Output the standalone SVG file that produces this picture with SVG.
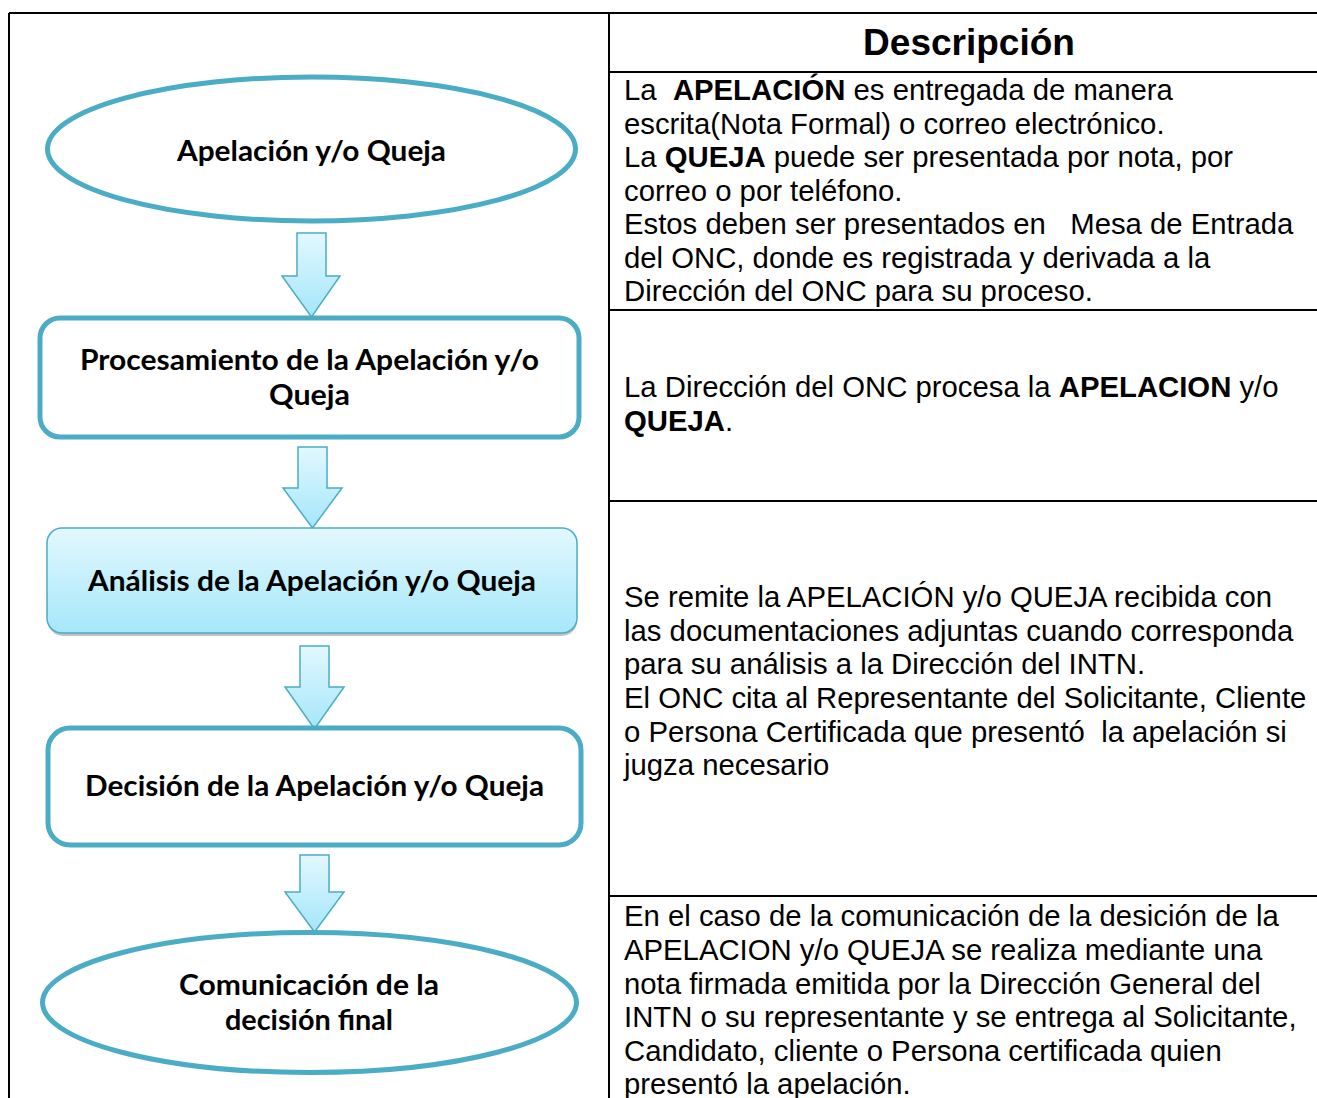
<svg xmlns="http://www.w3.org/2000/svg" width="1317" height="1098" viewBox="0 0 1317 1098">
<style>
.frame{stroke:#000;stroke-width:2;fill:none}
.node{fill:#fff;stroke:#4BACC6;stroke-width:5}
.lbl{font-family:"Lato","Liberation Sans",sans-serif;font-weight:700;font-size:28px;fill:#000;text-anchor:middle}
.desc{font-family:"Liberation Sans",Arial,sans-serif;font-size:29.3px;fill:#000;white-space:pre}
.hdr{font-family:"Liberation Sans",Arial,sans-serif;font-size:37px;font-weight:700;fill:#000;text-anchor:middle}
.arrow{fill:url(#ag);stroke:#4BACC6;stroke-width:1.5;stroke-linejoin:miter}
.b{font-weight:700}
</style>
<defs>
<linearGradient id="ag" x1="0" y1="0" x2="0" y2="1">
<stop offset="0" stop-color="#E2F8FE"/>
<stop offset="1" stop-color="#A4E6FA"/>
</linearGradient>
<linearGradient id="bg3" x1="0" y1="0" x2="0" y2="1">
<stop offset="0" stop-color="#E2F8FE"/>
<stop offset="1" stop-color="#A6E7FA"/>
</linearGradient>
</defs>
<rect width="1317" height="1098" fill="#fff"/>
<g id="table">
<line class="frame" x1="9" y1="13" x2="1317" y2="13"/>
<line class="frame" x1="9" y1="13" x2="9" y2="1098"/>
<line class="frame" x1="609" y1="13" x2="609" y2="1098"/>
<line class="frame" x1="609" y1="72" x2="1317" y2="72"/>
<line class="frame" x1="609" y1="310" x2="1317" y2="310"/>
<line class="frame" x1="609" y1="501" x2="1317" y2="501"/>
<line class="frame" x1="609" y1="896" x2="1317" y2="896"/>
<text class="hdr" x="969" y="55">Descripción</text>
</g>
<g id="desc1">
<text class="desc" x="624" y="100">La  <tspan class="b">APELACIÓN</tspan> es entregada de manera</text>
<text class="desc" x="624" y="134">escrita(Nota Formal) o correo electrónico.</text>
<text class="desc" x="624" y="167">La <tspan class="b">QUEJA</tspan> puede ser presentada por nota, por</text>
<text class="desc" x="624" y="201">correo o por teléfono.</text>
<text class="desc" x="624" y="234">Estos deben ser presentados en   Mesa de Entrada</text>
<text class="desc" x="624" y="268">del ONC, donde es registrada y derivada a la</text>
<text class="desc" x="624" y="301">Dirección del ONC para su proceso.</text>
</g>
<g id="desc2">
<text class="desc" x="624" y="397">La Dirección del ONC procesa la <tspan class="b">APELACION</tspan> y/o</text>
<text class="desc" x="624" y="431"><tspan class="b">QUEJA</tspan>.</text>
</g>
<g id="desc3">
<text class="desc" x="624" y="607">Se remite la APELACIÓN y/o QUEJA recibida con</text>
<text class="desc" x="624" y="641">las documentaciones adjuntas cuando corresponda</text>
<text class="desc" x="624" y="674">para su análisis a la Dirección del INTN.</text>
<text class="desc" x="624" y="708">El ONC cita al Representante del Solicitante, Cliente</text>
<text class="desc" x="624" y="742">o Persona Certificada que presentó  la apelación si</text>
<text class="desc" x="624" y="775">jugza necesario</text>
</g>
<g id="desc4">
<text class="desc" x="624" y="926">En el caso de la comunicación de la desición de la</text>
<text class="desc" x="624" y="960">APELACION y/o QUEJA se realiza mediante una</text>
<text class="desc" x="624" y="994">nota firmada emitida por la Dirección General del</text>
<text class="desc" x="624" y="1027">INTN o su representante y se entrega al Solicitante,</text>
<text class="desc" x="624" y="1061">Candidato, cliente o Persona certificada quien</text>
<text class="desc" x="624" y="1094">presentó la apelación.</text>
</g>
<g id="connectors">
<path class="arrow" d="M297,233 H326 V276 H340 L311.5,317 L282,276 H297 Z"/>
<path class="arrow" d="M298,447 H327 V488 H342 L312.5,528 L283,488 H298 Z"/>
<path class="arrow" d="M300,646 H329 V687 H344 L314.5,729 L285,687 H300 Z"/>
<path class="arrow" d="M300,855 H329 V892 H344 L314.5,932 L285,892 H300 Z"/>
</g>
<g id="n1">
<ellipse class="node" cx="311.5" cy="149" rx="264" ry="72"/>
<text class="lbl" x="311.5" y="161" textLength="269" lengthAdjust="spacingAndGlyphs">Apelación y/o Queja</text>
</g>
<g id="n2">
<rect class="node" x="40" y="318" width="539" height="119" rx="20" stroke-width="4"/>
<text class="lbl" x="309.5" y="370" textLength="459" lengthAdjust="spacingAndGlyphs">Procesamiento de la Apelación y/o</text>
<text class="lbl" x="309.5" y="405" textLength="81" lengthAdjust="spacingAndGlyphs">Queja</text>
</g>
<g id="n3">
<rect x="48" y="532" width="529" height="104" rx="15" fill="#9a9a9a" opacity="0.6"/>
<rect x="47" y="528" width="530" height="105" rx="15" fill="url(#bg3)" stroke="#4BACC6" stroke-width="1.5"/>
<text class="lbl" x="312" y="591" textLength="448" lengthAdjust="spacingAndGlyphs">Análisis de la Apelación y/o Queja</text>
</g>
<g id="n4">
<rect class="node" x="48" y="728" width="533" height="117" rx="22"/>
<text class="lbl" x="314.5" y="796" textLength="459" lengthAdjust="spacingAndGlyphs">Decisión de la Apelación y/o Queja</text>
</g>
<g id="n5">
<ellipse class="node" cx="309.5" cy="1002.5" rx="267" ry="70"/>
<text class="lbl" x="309" y="995" textLength="260" lengthAdjust="spacingAndGlyphs">Comunicación de la</text>
<text class="lbl" x="309" y="1030" textLength="168" lengthAdjust="spacingAndGlyphs">decisión final</text>
</g>
</svg>
